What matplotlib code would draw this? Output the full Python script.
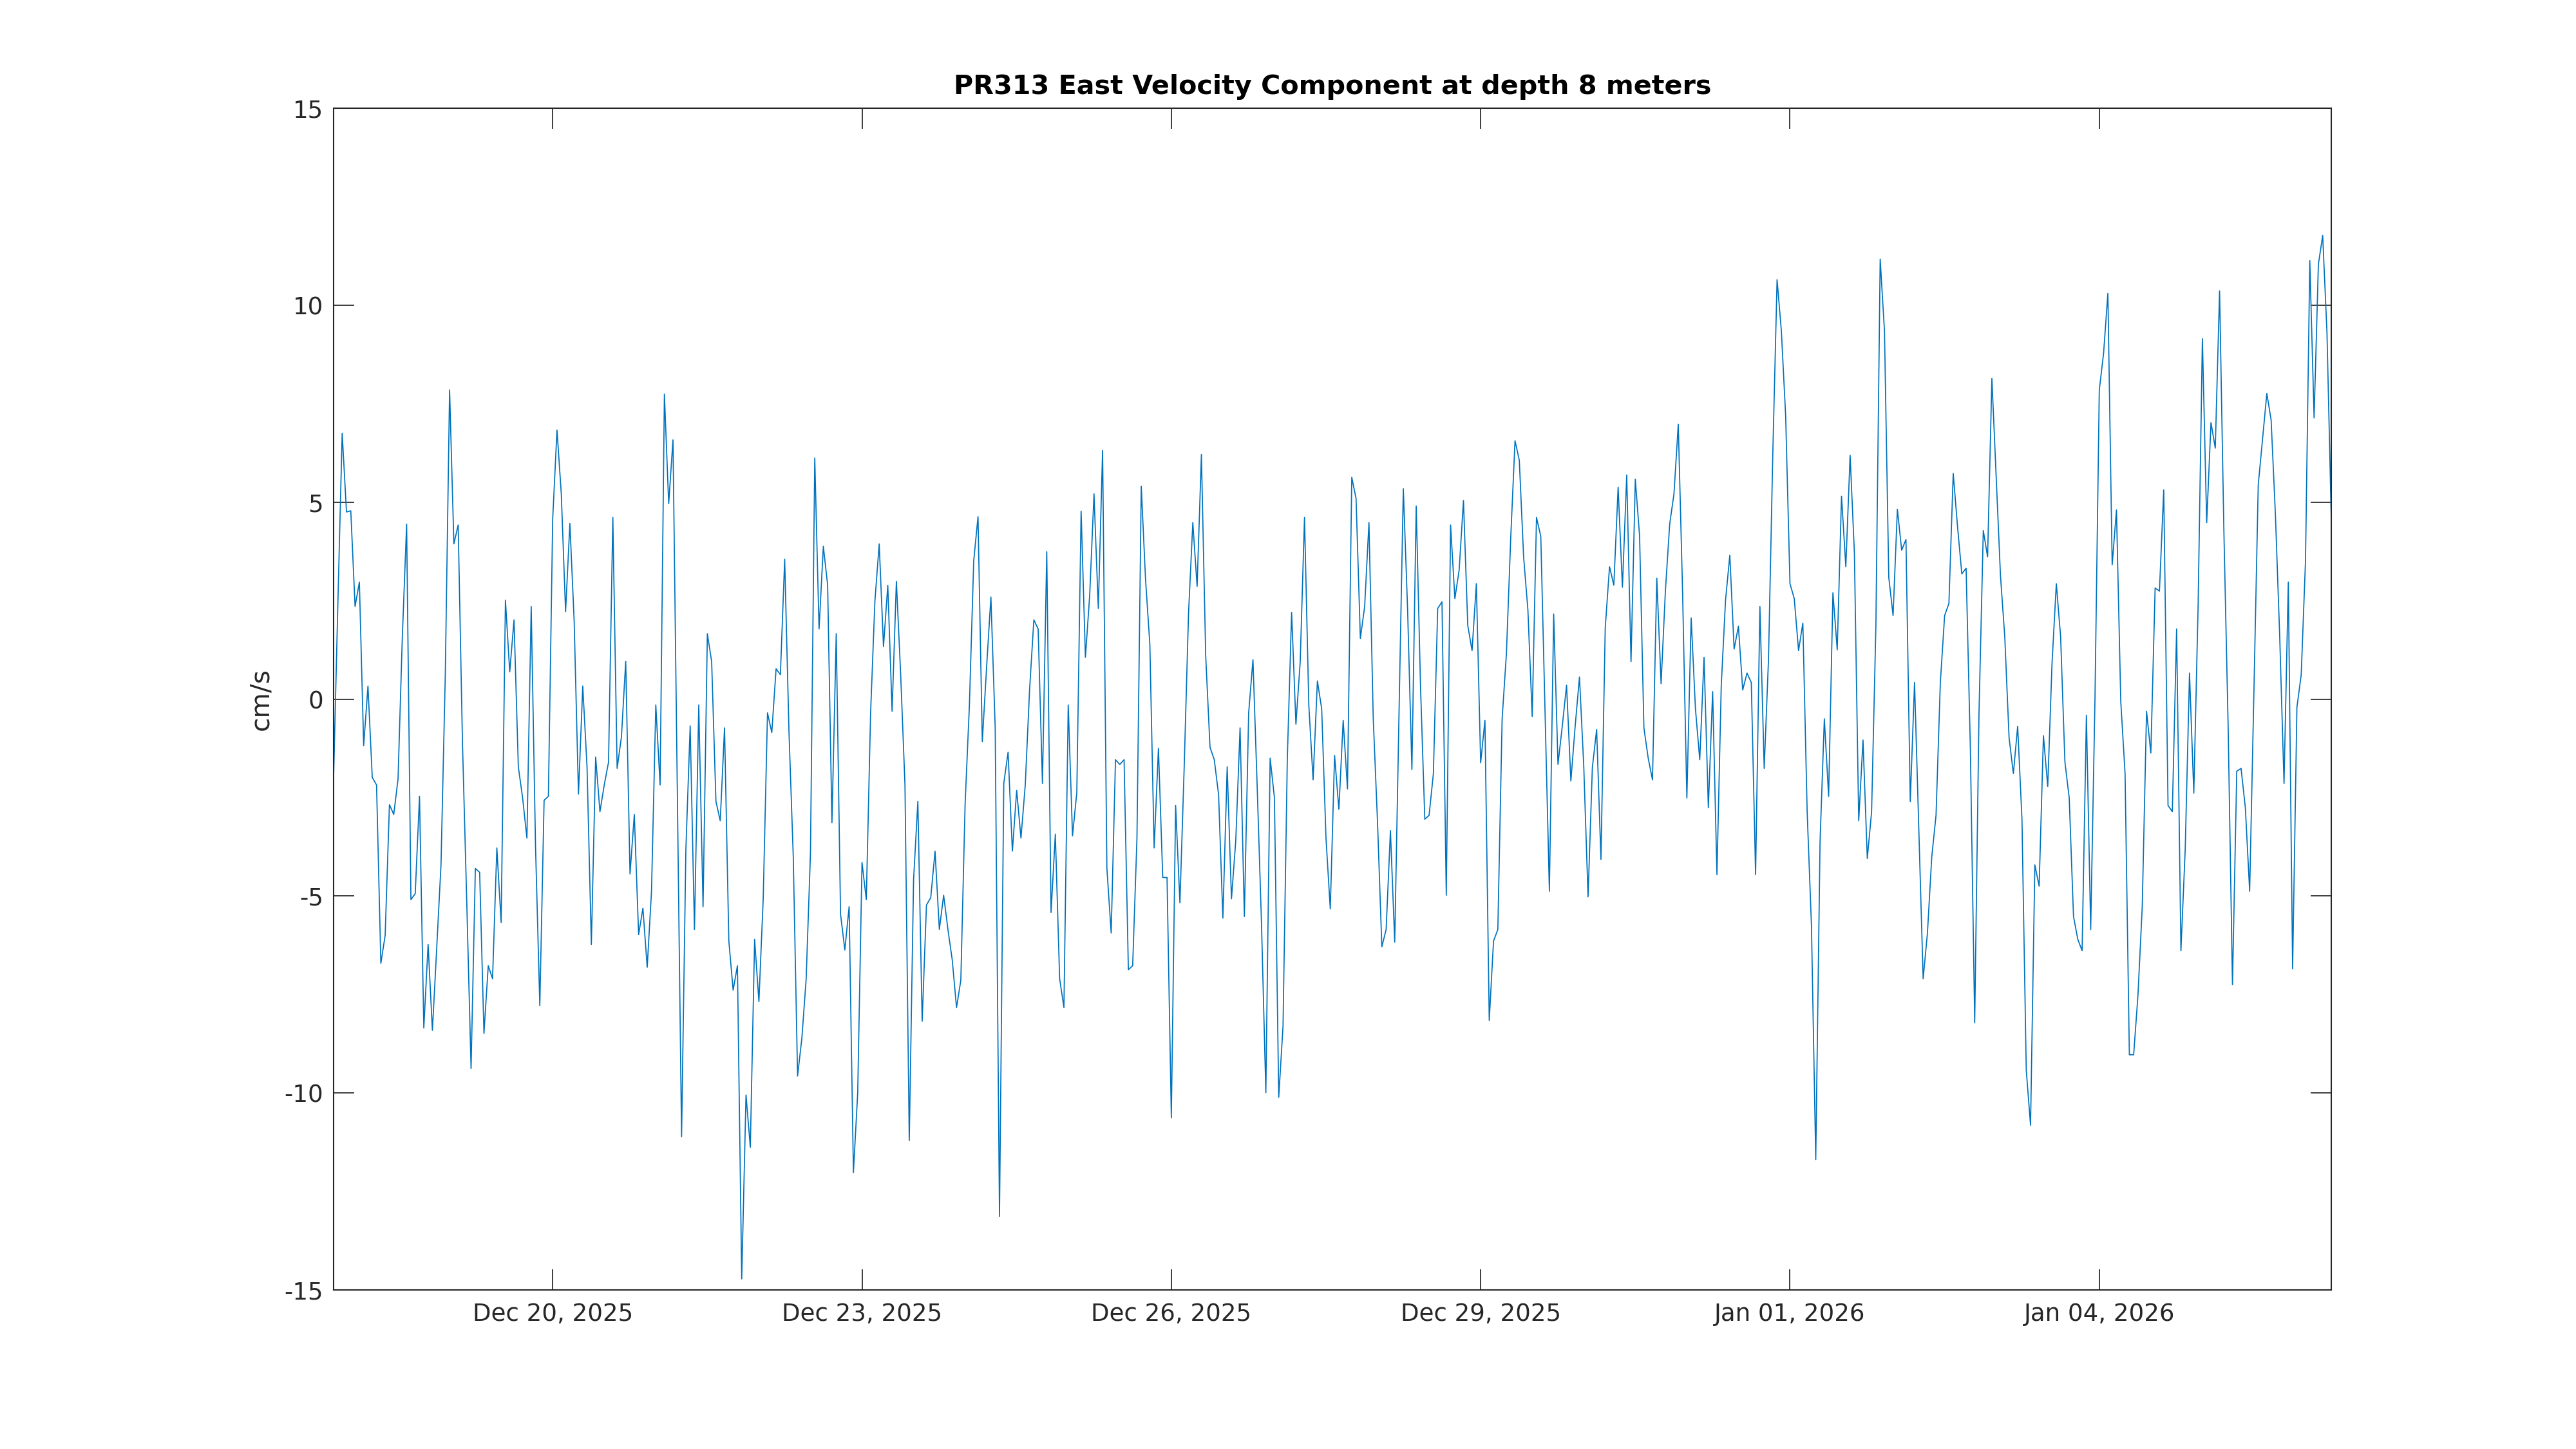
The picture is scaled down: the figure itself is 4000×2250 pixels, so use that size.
import matplotlib
matplotlib.use("Agg")
import matplotlib.pyplot as plt
import matplotlib.dates as mdates
import numpy as np
import pandas as pd

# hourly samples, first one at 2025-12-17 21:00
start_time = "2025-12-17 21:00"

east_velocity = [
    -1.99, 2.45, 6.75, 4.75, 4.78, 2.35, 2.97, -1.18, 0.33, -1.99,
    -2.18, -6.71, -6.00, -2.68, -2.93, -2.03, 1.58, 4.44, -5.09, -4.94,
    -2.47, -8.35, -6.23, -8.41, -6.33, -4.21, 0.62, 7.85, 3.94, 4.42,
    -1.12, -5.17, -9.38, -4.30, -4.40, -8.49, -6.77, -7.10, -3.78, -5.67,
    2.51, 0.69, 2.01, -1.72, -2.51, -3.53, 2.35,
    -3.72, -7.78, -2.57, -2.47, 4.57, 6.83, 5.21, 2.22, 4.46, 1.97,
    -2.41, 0.33, -1.74, -6.23, -1.47, -2.86, -2.18, -1.60, 4.61, -1.76,
    -0.96, 0.96, -4.44, -2.93, -5.98, -5.31, -6.81, -4.88, -0.15, -2.18,
    7.74, 4.96, 6.58, -2.28, -11.11, -3.82, -0.68, -5.85, -0.15, -5.27,
    1.66, 0.95, -2.60, -3.09, -0.73, -6.14, -7.39,
    -6.77, -14.72, -10.05, -11.38, -6.10, -7.68, -5.07, -0.35, -0.85, 0.77,
    0.62, 3.55, -0.83, -4.01, -9.57, -8.61, -7.10, -3.92, 6.12, 1.78,
    3.88, 2.89, -3.14, 1.66, -5.46, -6.37, -5.27, -12.02, -9.99, -4.15,
    -5.09, -0.35, 2.49, 3.94, 1.33, 2.89, -0.31, 2.99, 0.62, -2.18,
    -11.21, -4.59, -2.60, -8.18, -5.23, -5.04,
    -3.86, -5.85, -4.98, -5.85, -6.62, -7.83, -7.14, -2.66, -0.15, 3.51,
    4.63, -1.08, 0.81, 2.59, -0.73, -13.14, -2.14, -1.35, -3.86, -2.32,
    -3.53, -2.18, 0.23, 2.01, 1.78, -2.14, 3.74, -5.42, -3.43, -7.10,
    -7.83, -0.15, -3.47, -2.37, 4.77, 1.06, 2.64, 5.21, 2.30, 6.31,
    -4.30, -5.94, -1.54, -1.66, -1.54, -6.87, -6.77,
    -3.53, 5.40, 3.03, 1.39, -3.78, -1.25, -4.53, -4.53, -10.63, -2.70,
    -5.17, -1.70, 2.16, 4.48, 2.86, 6.21, 1.10, -1.22, -1.54, -2.43,
    -5.56, -1.72, -5.07, -3.59, -0.73, -5.52, -0.35, 1.00, -2.28, -5.75,
    -9.99, -1.50, -2.51, -10.11, -8.30, -1.50, 2.20, -0.64, 0.95, 4.61,
    -0.15, -2.05, 0.46, -0.25, -3.53, -5.33,
    -1.43, -2.80, -0.54, -2.28, 5.63, 5.09, 1.54, 2.35, 4.48, -0.50,
    -3.14, -6.29, -5.85, -3.34, -6.17, -0.35, 5.34, 2.26, -1.79, 4.90,
    0.33, -3.05, -2.95, -1.89, 2.30, 2.47, -4.98, 4.42, 2.55, 3.28,
    5.04, 1.87, 1.23, 2.93, -1.62, -0.54, -8.16, -6.14, -5.85, -0.50,
    1.16, 4.09, 6.56, 6.06, 3.61, 2.26, -0.44,
    4.61, 4.13, -0.35, -4.88, 2.16, -1.66, -0.69, 0.35, -2.08, -0.69,
    0.56, -1.70, -5.02, -1.74, -0.77, -4.07, 1.81, 3.36, 2.89, 5.38,
    2.84, 5.69, 0.95, 5.58, 4.13, -0.73, -1.50, -2.05, 3.07, 0.39,
    2.74, 4.44, 5.21, 6.98, 2.74, -2.51, 2.06, -0.25, -1.54, 1.06,
    -2.76, 0.19, -4.46, 0.33, 2.51, 3.65,
    1.27, 1.85, 0.23, 0.66, 0.42, -4.46, 2.35, -1.76, 1.00, 6.21,
    10.65, 9.34, 7.18, 2.93, 2.55, 1.23, 1.93, -2.86, -5.75, -11.69,
    -3.63, -0.50, -2.47, 2.70, 1.25, 5.15, 3.36, 6.19, 3.70, -3.09,
    -1.04, -4.05, -2.86, 1.87, 11.17, 9.34, 3.09, 2.12, 4.82, 3.78,
    4.05, -2.60, 0.42, -3.34, -7.10, -5.94, -4.01,
    -2.95, 0.42, 2.12, 2.43, 5.73, 4.38, 3.18, 3.32, -1.31, -8.22,
    -0.35, 4.28, 3.61, 8.14, 5.63, 3.13, 1.58, -0.98, -1.89, -0.69,
    -3.05, -9.42, -10.82, -4.21, -4.75, -0.93, -2.22, 0.91, 2.93, 1.58,
    -1.60, -2.51, -5.52, -6.10, -6.39, -0.41, -5.85, 0.04, 7.85, 8.78,
    10.30, 3.41, 4.80, -0.06, -1.89, -9.03,
    -9.03, -7.52, -5.27, -0.31, -1.37, 2.82, 2.74, 5.31, -2.70, -2.86,
    1.78, -6.39, -3.82, 0.66, -2.39, 2.35, 9.15, 4.48, 7.02, 6.37,
    10.36, 4.28, -0.73, -7.25, -1.83, -1.76, -2.76, -4.88, 0.23, 5.44,
    6.60, 7.76, 7.08, 4.67, 1.58, -2.14, 2.97, -6.85, -0.21, 0.62,
    3.51, 11.13, 7.14, 11.04, 11.77, 9.30, 4.57,
]

y_ticks = [-15, -10, -5, 0, 5, 10, 15]
x_tick_dates = ["2025-12-20", "2025-12-23", "2025-12-26", "2025-12-29",
                "2026-01-01", "2026-01-04"]

title = "PR313 East Velocity Component at depth 8 meters"
ylabel = "cm/s"


def main():
    plt.rcParams['axes.unicode_minus'] = False
    plt.rcParams['font.family'] = ['DejaVu Sans']

    times = pd.date_range(start_time, periods=len(east_velocity), freq="h")
    dark = '#262626'

    fig = plt.figure(figsize=(16, 9), dpi=250)
    ax = fig.add_axes([0.1295, 0.1098, 0.7755, 0.8155])

    ax.plot(times, east_velocity, color='#0072BD', linewidth=0.5)

    ax.set_xlim(times[0], times[-1])
    ax.set_ylim(-15, 15)
    ax.set_yticks(y_ticks)
    ax.set_xticks(pd.to_datetime(x_tick_dates))
    ax.xaxis.set_major_formatter(mdates.DateFormatter('%b %d, %Y'))

    ax.tick_params(axis='both', direction='in', top=True, right=True,
                   length=9.2, width=0.5, color=dark, labelcolor=dark,
                   labelsize=10.7)
    ax.tick_params(axis='x', pad=5.5)
    ax.tick_params(axis='y', pad=4.6)
    for s in ax.spines.values():
        s.set_color(dark)
        s.set_linewidth(0.6)

    ax.set_title(title, fontsize=11.9, fontweight='bold', color='black', pad=6.5)
    ax.set_ylabel(ylabel, fontsize=11.7, color=dark)
    ax.yaxis.set_label_coords(-0.030, 0.5)

    fig.savefig('out.png', dpi=250, facecolor='white')


if __name__ == '__main__':
    main()
